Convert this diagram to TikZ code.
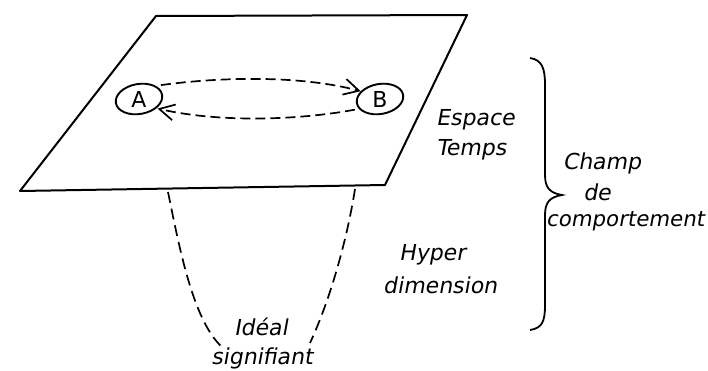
\documentclass[tikz,border=0pt]{standalone}
\usepackage{fontspec}
\setmainfont{DejaVu Sans}
\newfontfamily\letterfont[FakeSlant=0.18]{DejaVu Sans}
\usetikzlibrary{shapes.geometric,arrows.meta}
\begin{document}
\begin{tikzpicture}[x=1pt,y=-1pt,
  plane/.style={line width=2pt,line join=round},
  ring/.style={ellipse,draw,line width=1.9pt,minimum width=47pt,minimum height=30pt,inner sep=0pt,rotate=10},
  letter/.style={font=\fontsize{22}{22}\selectfont,inner sep=0pt},
  flow/.style={line width=1.7pt,dash pattern=on 10pt off 5pt,-{Straight Barb[length=15pt,width=16pt,line width=1.7pt]}},
  funnel/.style={line width=1.7pt,dash pattern=on 11pt off 6pt},
  lab/.style={font=\letterfont\fontsize{22}{22}\selectfont,inner sep=0pt},
  brace/.style={line width=1.8pt}]
\useasboundingbox (0,0) rectangle (708,370);
% plane
\coordinate (p1) at (156,16);
\coordinate (p2) at (467,15);
\coordinate (p3) at (385,185);
\coordinate (p4) at (20,191);
\draw[plane] (p1) -- (p2) -- (p3) -- (p4) -- cycle;
% stations
\node[ring] (Ar) at (139,99) {};
\node[letter] (A) at (139,99) {A};
\node[ring] (Br) at (380,99) {};
\node[letter] (B) at (380,99) {B};
\draw[flow,shorten <=5pt] (Ar.28) .. controls (220,77) and (300,75) .. (Br.148);
\draw[flow,shorten <=4pt,shorten >=1pt] (Br.-165) .. controls (300,120) and (220,123) .. (Ar.-38);
% funnel
\coordinate (f1) at (168,192);
\coordinate (f2) at (222,347);
\coordinate (f3) at (355,189);
\coordinate (f4) at (310,343);
\draw[funnel] (f1) .. controls (178,240) and (192,320) .. (f2);
\draw[funnel] (f3) .. controls (347,240) and (330,300) .. (f4);
\node[lab] (ideal) at (261,327) {Idéal};
\node[lab] (signif) at (262,358) {signifiant};
% labels
\node[lab,anchor=west] (espace) at (436,120) {Espace};
\node[lab,anchor=west] (temps) at (436,150) {Temps};
\node[lab,anchor=west] (hyper) at (399,255) {Hyper};
\node[lab,anchor=west] (dim) at (383,285) {dimension};
% brace
\coordinate (bt) at (530,58);
\coordinate (bm) at (562,195);
\coordinate (bb) at (530,330);
\draw[brace] (bt) .. controls (542,60) and (545,68) .. (545,85)
  -- (545,175) .. controls (545,188) and (550,193) .. (bm)
  .. controls (550,197) and (545,202) .. (545,215)
  -- (545,305) .. controls (545,322) and (542,328) .. (bb);
\node[lab] (champ) at (602,163) {Champ};
\node[lab] (de) at (597,192) {de};
\node[lab,anchor=west,font=\letterfont\fontsize{21.3}{21.3}\selectfont] (comp) at (546,221) {comportement};
\end{tikzpicture}
\end{document}
